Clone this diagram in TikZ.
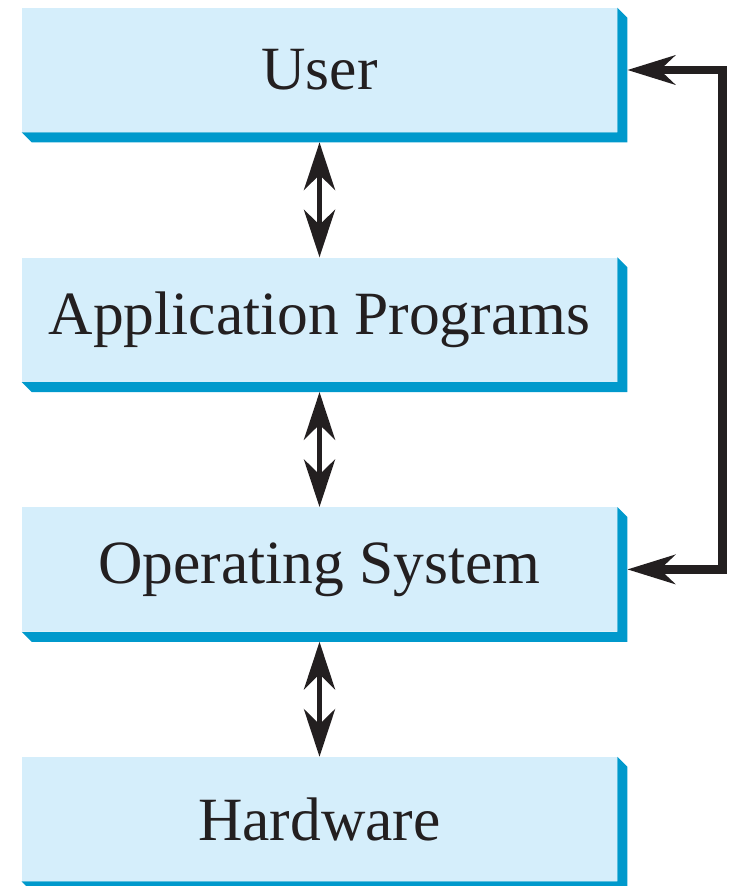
\documentclass[tikz,border=0pt]{standalone}
\usepackage{fontspec}
\setmainfont{Liberation Serif}
\usetikzlibrary{positioning,arrows.meta}
\definecolor{boxfill}{HTML}{D5EEFB}
\definecolor{boxedge}{HTML}{0099CC}
\definecolor{ink}{HTML}{231F20}

\begin{document}
\begin{tikzpicture}
  % Settings
  \tikzset{
    layer/.style={fill=boxfill, shape=rectangle, minimum width=11.9cm, minimum height=2.48cm, inner sep=0pt, align=center, text=ink, font=\fontsize{35}{40}\selectfont},
    edge3d/.style={fill=boxedge},
    link/.style={draw=ink, line width=3.4pt, {Stealth[length=0.95cm,width=0.62cm,inset=0.3cm]}-{Stealth[length=0.95cm,width=0.62cm,inset=0.3cm]}},
    loop/.style={draw=ink, line width=4.8pt, line join=miter, {Stealth[length=0.95cm,width=0.58cm,inset=0.3cm]}-{Stealth[length=0.95cm,width=0.58cm,inset=0.3cm]}},
  }
  \useasboundingbox (0,0) rectangle (14.6,-17.72);
  \node[layer] (user) at (6.39,-1.4) {User};
  \node[layer, below=2.5cm of user] (app) {Application Programs};
  \node[layer, below=2.5cm of app] (os) {Operating System};
  \node[layer, below=2.5cm of os] (hw) {Hardware};
  % Shadows
  \foreach \n in {user,app,os,hw} {
    \fill[edge3d] (\n.north east) -- ++(.2,-.2) -- ([shift={(.2,-.2)}]\n.south east)
      -- ([shift={(.2,-.2)}]\n.south west) -- (\n.south west) -- (\n.south east) -- cycle;
  }
  % Arrows
  \draw[link] ([yshift=-.2cm]user.south) -- (app.north);
  \draw[link] ([yshift=-.2cm]app.south) -- (os.north);
  \draw[link] ([yshift=-.2cm]os.south) -- (hw.north);
  \coordinate (rail) at ([xshift=2.1cm]user.east);
  \draw[loop] ([xshift=.2cm]user.east) -- (rail) |- ([xshift=.2cm]os.east);
\end{tikzpicture}
\end{document}
